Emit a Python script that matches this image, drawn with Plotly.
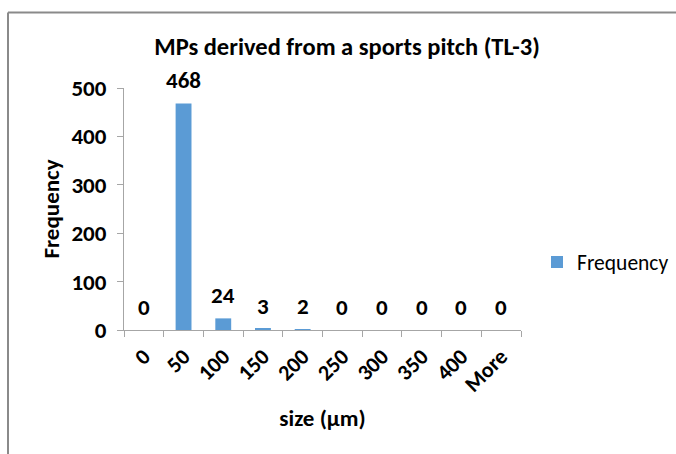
import plotly.graph_objects as go

# Histogram bins (upper edge of each size class) and counts
size_bins = ["0", "50", "100", "150", "200", "250", "300", "350", "400", "More"]
frequency = [0, 468, 24, 3, 2, 0, 0, 0, 0, 0]
y_ticks = [0, 100, 200, 300, 400, 500]

FONT = "Carlito, Lato, 'Open Sans', sans-serif"
BAR_BLUE = "#5b9bd5"
AXIS_GREY = "#a6a6a6"
FRAME_GREY = "#8a8a8a"

W, H = 676, 454
L, R, T, B = 124, 155, 88, 124
plot_w = W - L - R
plot_h = H - T - B


def px_to_paper_x(px):
    return (px - L) / plot_w


def px_to_paper_y(py):
    return (H - B - py) / plot_h


fig = go.Figure()
fig.add_trace(go.Bar(
    x=size_bins,
    y=frequency,
    name="Frequency",
    marker=dict(color=BAR_BLUE, line=dict(width=0)),
    showlegend=True,
))

# value labels above each bar (x given as category index)
for i, val in enumerate(frequency):
    fig.add_annotation(
        x=i, y=val, xref="x", yref="y",
        text=f"<b>{val}</b>", showarrow=False,
        yanchor="middle", yshift=23,
        font=dict(family=FONT, size=23, color="black"),
    )

# chart-area frame: top and left edges
frame_top = px_to_paper_y(12.5)
frame_left = px_to_paper_x(8)
fig.add_shape(type="line", xref="paper", yref="paper",
              x0=frame_left, x1=px_to_paper_x(W + 10), y0=frame_top, y1=frame_top,
              line=dict(color=FRAME_GREY, width=2), layer="below")
fig.add_shape(type="line", xref="paper", yref="paper",
              x0=frame_left, x1=frame_left, y0=frame_top, y1=px_to_paper_y(H + 10),
              line=dict(color=FRAME_GREY, width=2), layer="below")

fig.update_layout(
    width=W, height=H,
    margin=dict(l=L, r=R, t=T, b=B, autoexpand=False),
    paper_bgcolor="white", plot_bgcolor="white",
    bargap=0.6,
    font=dict(family=FONT, color="black"),
    title=dict(
        text="<b>MPs derived from a sports pitch (TL-3)</b>",
        x=347 / W, xanchor="center", y=1 - 46 / H, yanchor="middle",
        font=dict(family=FONT, size=24.5, color="black"),
    ),
    xaxis=dict(
        type="category",
        range=[-0.5, len(size_bins) - 0.5],
        automargin=False,
        tickson="boundaries",
        ticks="outside", ticklen=6, tickcolor=AXIS_GREY, tickwidth=1,
        showline=True, linecolor=AXIS_GREY, linewidth=1,
        showgrid=False,
        tickangle=-45,
        ticklabelstandoff=4,
        tickfont=dict(family=FONT, size=22, color="black", weight="bold"),
        title=dict(text="<b>size (µm)</b>", standoff=13,
                   font=dict(family=FONT, size=23, color="black")),
    ),
    yaxis=dict(
        range=[0, 500],
        tickvals=y_ticks,
        automargin=False,
        ticks="outside", ticklen=6, tickcolor=AXIS_GREY, tickwidth=1,
        showline=True, linecolor=AXIS_GREY, linewidth=1,
        showgrid=False, zeroline=False,
        ticklabelstandoff=6,
        tickfont=dict(family=FONT, size=23, color="black", weight="bold"),
        title=dict(text="<b>Frequency</b>", standoff=5,
                   font=dict(family=FONT, size=23, color="black")),
    ),
    legend=dict(
        xref="container", yref="container",
        x=537 / W, y=1 - 262 / H,
        xanchor="left", yanchor="middle",
        font=dict(family=FONT, size=21.5, color="black"),
        itemwidth=30, borderwidth=0, bgcolor="rgba(0,0,0,0)",
    ),
)

fig.write_html("out.html")
